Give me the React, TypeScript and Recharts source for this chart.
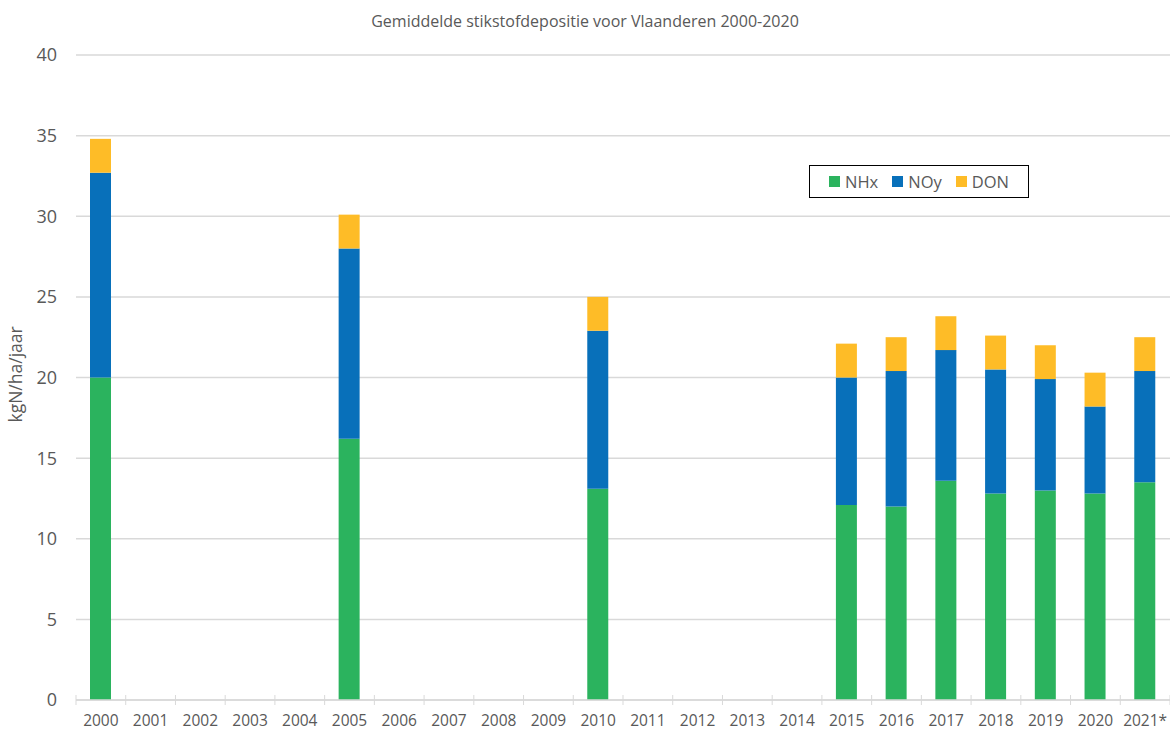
import { BarChart, Bar, XAxis, YAxis, CartesianGrid } from "recharts";

const years = ["2000", "2001", "2002", "2003", "2004", "2005", "2006", "2007", "2008", "2009", "2010", "2011", "2012", "2013", "2014", "2015", "2016", "2017", "2018", "2019", "2020", "2021*"];
const nhx = [20.0, null, null, null, null, 16.2, null, null, null, null, 13.1, null, null, null, null, 12.1, 12.0, 13.6, 12.8, 13.0, 12.8, 13.5];
const noy = [12.7, null, null, null, null, 11.8, null, null, null, null, 9.8, null, null, null, null, 7.9, 8.4, 8.1, 7.7, 6.9, 5.4, 6.9];
const don = [2.1, null, null, null, null, 2.1, null, null, null, null, 2.1, null, null, null, null, 2.1, 2.1, 2.1, 2.1, 2.1, 2.1, 2.1];
const yTicks = [0, 5, 10, 15, 20, 25, 30, 35, 40];

const data = years.map((year, i) => ({ year, NHx: nhx[i], NOy: noy[i], DON: don[i] }));

const WIDTH = 1170;
const HEIGHT = 731;
const Y_AXIS_W = 76;
const BAND = (WIDTH - Y_AXIS_W) / years.length;
const FONT = "'Open Sans', sans-serif";
const TEXT = "#595959";
const GRID = "#d9d9d9";

const colors = { NHx: "#2bb35e", NOy: "#0870ba", DON: "#febc27" };

function YearTick(props: any) {
  const { x, y, payload, index } = props;
  const left = x - BAND / 2;
  return (
    <g>
      <line x1={left} x2={left} y1={y - 5} y2={y + 5} stroke={GRID} />
      {index === years.length - 1 && (
        <line x1={x + BAND / 2} x2={x + BAND / 2} y1={y - 5} y2={y + 5} stroke={GRID} />
      )}
      <text x={x} y={y + 26} textAnchor="middle" fill={TEXT} fontSize={15.5} fontFamily={FONT}>
        {payload.value}
      </text>
    </g>
  );
}

function LegendBox() {
  const items = [
    { name: "NHx", color: colors.NHx },
    { name: "NOy", color: colors.NOy },
    { name: "DON", color: colors.DON },
  ];
  return (
    <div
      style={{
        position: "absolute",
        left: 809,
        top: 165,
        width: 218,
        height: 31,
        border: "1px solid #000",
        background: "#fff",
        display: "flex",
        alignItems: "center",
        justifyContent: "center",
        gap: 14,
        fontFamily: FONT,
        fontSize: 16.5,
        color: TEXT,
      }}
    >
      {items.map((it) => (
        <div key={it.name} style={{ display: "flex", alignItems: "center", gap: 5 }}>
          <span style={{ width: 11, height: 11, background: it.color, display: "inline-block" }} />
          <span>{it.name}</span>
        </div>
      ))}
    </div>
  );
}

export default function App() {
  return (
    <div style={{ position: "absolute", left: 0, top: 0, width: WIDTH, height: HEIGHT, background: "#fff" }}>
      <div
        style={{
          position: "absolute",
          left: 0,
          top: 10,
          width: WIDTH,
          textAlign: "center",
          fontFamily: FONT,
          fontSize: 16,
          color: TEXT,
        }}
      >
        Gemiddelde stikstofdepositie voor Vlaanderen 2000-2020
      </div>
      <BarChart width={WIDTH} height={HEIGHT} data={data} margin={{ top: 55, right: 0, bottom: 0, left: 0 }} barSize={21}>
        <CartesianGrid vertical={false} stroke={GRID} strokeWidth={1.5} />
        <XAxis
          dataKey="year"
          tick={<YearTick />}
          tickLine={false}
          tickSize={0}
          tickMargin={0}
          axisLine={{ stroke: GRID, strokeWidth: 1.5 }}
          interval={0}
          height={31}
        />
        <YAxis
          width={Y_AXIS_W}
          domain={[0, 40]}
          ticks={yTicks}
          axisLine={false}
          tickLine={false}
          tickSize={0}
          tickMargin={19}
          tick={{ fill: TEXT, fontSize: 18, fontFamily: FONT }}
          label={{
            value: "kgN/ha/jaar",
            angle: -90,
            position: "insideLeft",
            offset: 16,
            dy: 45,
            style: { fill: TEXT, fontSize: 17.5, fontFamily: FONT },
          }}
        />
        <Bar dataKey="NHx" stackId="a" fill={colors.NHx} isAnimationActive={false} />
        <Bar dataKey="NOy" stackId="a" fill={colors.NOy} isAnimationActive={false} />
        <Bar dataKey="DON" stackId="a" fill={colors.DON} isAnimationActive={false} />
      </BarChart>
      <LegendBox />
    </div>
  );
}
